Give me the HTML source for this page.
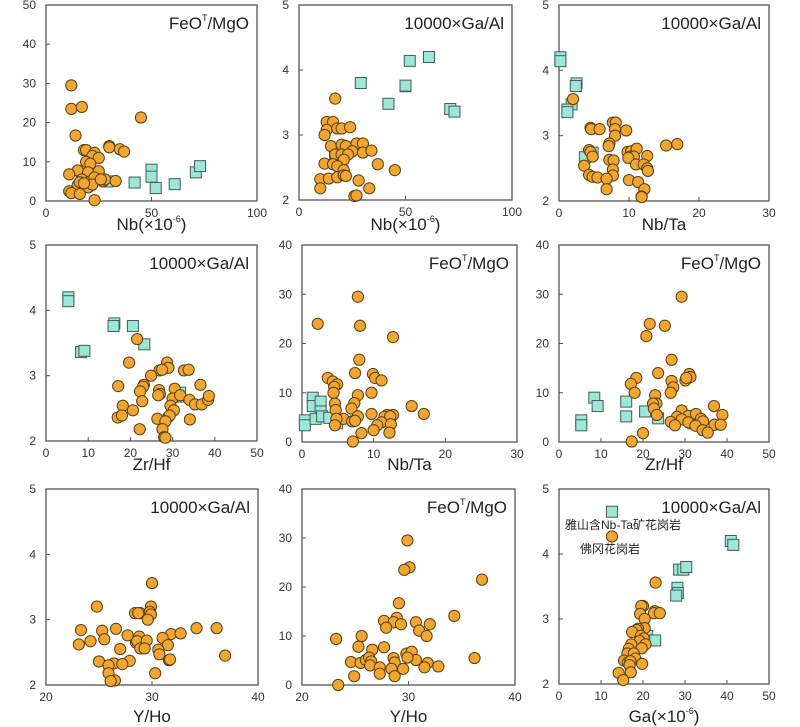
<!DOCTYPE html>
<html><head><meta charset="utf-8">
<style>
body{margin:0;background:#fff;}
svg{display:block;font-family:"Liberation Sans","Noto Sans CJK SC",sans-serif;}
</style></head>
<body>
<svg id="chart" width="800" height="727" viewBox="0 0 800 727"></svg>
<script>
// ---- data ----
const p1Circles=[[12,29.5],[12,23.5],[17,24],[14,16.7],[45,21.3],[30,14],[30,13.7],[35,13.2],[37,12.6],[18,13],[19,13],[23,12.3],[22,11.5],[25,11],[19,10],[21,9.5],[15,7.8],[20,7.3],[25,7.6],[11,6.8],[17,5.5],[21,5],[23,6],[27,5],[28,5.5],[33,5.1],[15,4],[16,4.8],[20,3.5],[22,4.2],[11,2.5],[12,2],[16,1.8],[23,0.2],[26,5.5],[18,4.5]];
const p1Squares=[[17,5],[17,3.8],[29,5],[42,4.7],[50,8],[50,6.2],[52,3.3],[61,4.3],[71,7.3],[73,8.9]];
const p2Circles=[[17,3.56],[13,3.2],[16,3.2],[13,3.08],[18,3.1],[20,3.1],[24,3.12],[12,3.0],[15,2.83],[20,2.85],[22,2.83],[27,2.87],[30,2.87],[25,2.75],[30,2.73],[34,2.76],[17,2.7],[20,2.7],[23,2.7],[21,2.62],[12,2.56],[16,2.55],[18,2.52],[37,2.55],[45,2.46],[21,2.46],[10,2.32],[14,2.33],[18,2.35],[21,2.38],[22,2.37],[28,2.3],[10,2.18],[33,2.18],[26,2.06],[27,2.07]];
const p2Squares=[[17,2.74],[17,2.66],[29,3.8],[42,3.48],[50,3.75],[50,3.76],[52,4.14],[61,4.2],[71,3.4],[73,3.36]];
const p3Circles=[[2.0,3.56],[4.5,3.12],[4.6,3.1],[5.8,3.1],[7.7,3.2],[8.1,3.2],[8.0,3.1],[8.0,3.0],[9.6,3.08],[7.2,2.88],[7.1,2.84],[4.3,2.78],[4.5,2.75],[4.8,2.68],[15.3,2.85],[16.9,2.87],[9.8,2.75],[10.3,2.76],[11.1,2.8],[10.2,2.68],[10.7,2.68],[12.6,2.69],[9.9,2.66],[7.2,2.63],[7.8,2.62],[11.0,2.56],[12.1,2.56],[12.6,2.5],[12.7,2.46],[3.6,2.54],[7.7,2.48],[7.7,2.39],[4.3,2.4],[4.8,2.37],[5.5,2.36],[6.8,2.34],[10.0,2.32],[11.3,2.29],[6.8,2.18],[12.2,2.18],[11.8,2.07],[11.8,2.06]];
const p3Squares=[[0.2,4.2],[0.2,4.14],[2.5,3.8],[2.4,3.76],[1.8,3.48],[1.2,3.4],[1.2,3.36],[3.7,2.67],[4.8,2.74]];
const p4Circles=[[21.6,3.56],[19.7,3.2],[28.7,3.2],[29.0,3.12],[26.9,3.08],[27.5,3.09],[32.7,3.08],[33.8,3.09],[24.9,3.0],[23.2,2.86],[23.0,2.83],[17.1,2.84],[36.6,2.86],[22.3,2.76],[26.8,2.78],[27.0,2.72],[26.6,2.7],[30.5,2.8],[30.0,2.65],[31.8,2.7],[34.0,2.63],[35.3,2.56],[36.9,2.56],[38.4,2.63],[38.6,2.69],[22.8,2.61],[18.2,2.54],[29.5,2.54],[30.3,2.47],[20.6,2.47],[17.0,2.36],[18.0,2.39],[26.4,2.34],[28.9,2.36],[29.3,2.39],[34.1,2.33],[28.3,2.3],[22.2,2.18],[27.6,2.18],[28.0,2.06],[28.3,2.05]];
const p4Squares=[[5.3,4.2],[5.3,4.14],[16.2,3.8],[16,3.76],[20.6,3.76],[23.3,3.48],[8.3,3.36],[9.1,3.38],[31.3,2.68],[31.8,2.74]];
const p5Circles=[[7.8,29.5],[2.2,24],[8.1,23.6],[12.7,21.3],[8.0,16.7],[7.4,14],[9.9,13.8],[10.2,13],[11.1,12.5],[3.6,13],[4.3,12.3],[4.9,11.7],[4.5,11.2],[4.4,10],[9.7,10],[7.8,9.5],[7.3,7.9],[4.6,7.8],[6.9,6.8],[4.7,6.5],[15.3,7.3],[17.0,5.7],[9.7,5.7],[11.9,5.5],[12.7,5.5],[11.5,5.1],[12.3,5.2],[7.8,5.2],[5.8,4.7],[4.8,4.7],[7.0,4.2],[7.4,4.3],[11.1,4],[10.5,3.4],[12.4,3.6],[4.6,3.4],[10.0,2.4],[8.3,1.8],[12.2,1.9],[7.1,0.1]];
const p5Squares=[[0.4,4.4],[0.4,3.4],[1.5,9],[1.5,7.3],[2.6,8.2],[2.6,6.2],[1.9,4.7],[2.8,5.2],[3.8,4.9],[4.9,3.8]];
const p6Circles=[[29.2,29.5],[21.6,24],[25.2,23.6],[20.8,21.5],[26.8,16.7],[23.6,14],[31.0,13.8],[31.3,13.2],[30.1,12.5],[30.3,13],[26.8,12.4],[27.2,11.1],[18.4,13],[17.1,11.8],[18.0,10],[26.6,10],[22.9,9.5],[23.2,7.8],[22.4,7.8],[22.6,6.8],[29.2,6.4],[36.9,7.3],[23.3,5.5],[28.1,5.1],[30.8,5.3],[32.6,5.7],[33.8,4.7],[34.3,4.2],[38.9,5.5],[29.2,4.6],[26.6,4.1],[27.6,3.4],[30.8,4.0],[32.5,3.3],[37.0,3.5],[38.5,3.5],[34.2,2.4],[35.4,1.9],[20.0,1.8],[17.3,0.1]];
const p6Squares=[[5.3,4.4],[5.3,3.4],[8.4,9],[9.2,7.3],[16.0,8.2],[16.0,5.2],[20.5,6.2],[23.6,4.8],[31.2,4.9],[32.0,3.8]];
const p7Circles=[[30.0,3.56],[24.8,3.2],[29.9,3.2],[28.4,3.1],[28.9,3.1],[28.7,3.1],[29.8,3.12],[29.9,3.08],[29.6,3.0],[23.3,2.84],[25.3,2.83],[26.6,2.86],[34.2,2.87],[36.1,2.87],[31.8,2.78],[32.7,2.79],[27.7,2.76],[28.8,2.74],[31.0,2.72],[24.2,2.67],[25.5,2.7],[28.5,2.65],[28.6,2.67],[29.5,2.68],[23.1,2.62],[31.5,2.61],[27.0,2.55],[28.9,2.56],[29.3,2.56],[30.6,2.54],[30.7,2.47],[36.9,2.45],[25.0,2.36],[27.9,2.37],[31.6,2.38],[31.7,2.39],[26.4,2.33],[27.2,2.32],[25.9,2.3],[25.9,2.18],[30.3,2.18],[26.5,2.07],[26.1,2.06]];
const p7Squares=[];
const p8Circles=[[29.9,29.5],[30.1,24],[29.6,23.5],[36.9,21.5],[29.1,16.7],[34.3,14.1],[28.9,13.7],[27.7,13.1],[28.6,12.8],[29.3,12.4],[30.7,12.8],[32.0,12.4],[27.9,11.7],[31.0,11.1],[31.7,10],[23.2,9.4],[25.6,10],[25.3,7.8],[26.6,7.2],[27.7,7.7],[29.8,6.4],[30.3,6.8],[24.6,4.7],[25.5,4.5],[26.0,5.1],[26.3,5.6],[26.5,4.8],[26.4,4.0],[28.6,5.5],[28.7,4.6],[30.7,5.1],[29.9,5.6],[31.8,4.5],[36.2,5.5],[27.3,3.6],[28.4,3.3],[29.5,3.3],[31.5,3.6],[32.8,3.8],[24.9,1.8],[27.3,2.3],[28.7,1.8],[23.4,0.0]];
const p8Squares=[];
const p9Circles=[[23.0,3.56],[20.0,3.2],[19.6,3.2],[22.8,3.12],[22.6,3.09],[24.0,3.09],[19.3,3.08],[20.4,3.0],[20.4,2.86],[18.8,2.85],[18.5,2.83],[17.4,2.8],[19.5,2.74],[20.2,2.7],[19.2,2.66],[20.6,2.61],[17.2,2.61],[19.7,2.55],[16.6,2.54],[16.3,2.47],[17.8,2.47],[18.2,2.39],[15.5,2.36],[16.4,2.33],[17.0,2.35],[19.8,2.31],[16.8,2.29],[14.2,2.17],[17.1,2.18],[15.3,2.06]];
const p9Squares=[[40.9,4.2],[41.5,4.14],[28.6,3.76],[29.6,3.76],[30.3,3.8],[28.2,3.48],[28.3,3.4],[27.9,3.36],[21.0,2.74],[22.9,2.67]];
const ticksNb=[0,50,100], ticksNbTa=[0,10,20,30], ticksZrHf=[0,10,20,30,40,50], ticksYHo=[20,30,40], ticksGa=[0,10,20,30,40,50];
const ticksGaAl=[2,3,4,5], ticksFeO50=[0,10,20,30,40,50], ticksFeO40=[0,10,20,30,40];

const NS="http://www.w3.org/2000/svg";
const svg=document.getElementById('chart');
function mk(tag,attrs,parent){const e=document.createElementNS(NS,tag);for(const k in attrs)e.setAttribute(k,attrs[k]);(parent||svg).appendChild(e);return e;}

const panels=[
 {id:'nb-feo',box:[46,5,257,201],xr:[0,100],yr:[0,50],xt:ticksNb,yt:ticksFeO50,c:p1Circles,s:p1Squares,title:'feo',xl:'Nb(×10',xsup:'-6',ty:230},
 {id:'nb-gaal',box:[299,5,512,200],xr:[0,100],yr:[2,5],xt:ticksNb,yt:ticksGaAl,c:p2Circles,s:p2Squares,title:'ga',xl:'Nb(×10',xsup:'-6',ty:230},
 {id:'nbta-gaal',box:[559,5,769,201],xr:[0,30],yr:[2,5],xt:ticksNbTa,yt:ticksGaAl,c:p3Circles,s:p3Squares,title:'ga',xl:'Nb/Ta',ty:230},
 {id:'zrhf-gaal',box:[46,245,257,441],xr:[0,50],yr:[2,5],xt:ticksZrHf,yt:ticksGaAl,c:p4Circles,s:p4Squares,title:'ga',xl:'Zr/Hf',ty:470},
 {id:'nbta-feo',box:[302,245,517,442],xr:[0,30],yr:[0,40],xt:ticksNbTa,yt:ticksFeO40,c:p5Circles,s:p5Squares,title:'feo',xl:'Nb/Ta',ty:470},
 {id:'zrhf-feo',box:[559,245,769,442],xr:[0,50],yr:[0,40],xt:ticksZrHf,yt:ticksFeO40,c:p6Circles,s:p6Squares,title:'feo',xl:'Zr/Hf',ty:470},
 {id:'yho-gaal',box:[46,489,258,685],xr:[20,40],yr:[2,5],xt:ticksYHo,yt:ticksGaAl,c:p7Circles,s:p7Squares,title:'ga',xl:'Y/Ho',ty:722},
 {id:'yho-feo',box:[302,489,515,685],xr:[20,40],yr:[0,40],xt:ticksYHo,yt:ticksFeO40,c:p8Circles,s:p8Squares,title:'feo',xl:'Y/Ho',ty:722},
 {id:'ga-gaal',box:[559,489,769,684],xr:[0,50],yr:[2,5],xt:ticksGa,yt:ticksGaAl,c:p9Circles,s:p9Squares,title:'ga',xl:'Ga(×10',xsup:'-6',ty:722}
];

panels.forEach(p=>{
 const [x0,y0,x1,y1]=p.box;
 const g=mk('g',{});
 
 
 const sx=v=>x0+(v-p.xr[0])/(p.xr[1]-p.xr[0])*(x1-x0);
 const sy=v=>y1-(v-p.yr[0])/(p.yr[1]-p.yr[0])*(y1-y0);
 const fr=mk('rect',{x:x0,y:y0,width:x1-x0,height:y1-y0,fill:'none',stroke:'#555','stroke-width':1.3},g);
 
 
 p.xt.forEach(t=>{
  mk('line',{x1:sx(t),x2:sx(t),y1:y1,y2:y1-4,stroke:'#555'},g);
  const tx=mk('text',{x:sx(t),y:y1+16,'text-anchor':'middle','font-size':12,fill:'#333'},g);
  tx.textContent=t;
  
  
 });
 p.yt.forEach(t=>{
  mk('line',{x1:x0,x2:x0+4,y1:sy(t),y2:sy(t),stroke:'#555'},g);
  const tx=mk('text',{x:x0-10,y:sy(t)+4,'text-anchor':'end','font-size':12,fill:'#333'},g);
  tx.textContent=t;
  
  
 });
 p.s.forEach(d=>{
  const r=mk('rect',{x:sx(d[0])-5.5,y:sy(d[1])-5.5,width:11,height:11,fill:'#9ee6d6',stroke:'#3d5f5a','stroke-width':1},g);
  
  
 });
 p.c.forEach(d=>{
  const c=mk('circle',{cx:sx(d[0]),cy:sy(d[1]),r:5.6,fill:'#f0a631',stroke:'#5a3e12','stroke-width':1},g);
  
  
 });
 const tt=mk('text',{x:x1-8,y:y0+24,'text-anchor':'end','font-size':17,fill:'#222'},g);
 
 
 if(p.title==='feo'){
  tt.innerHTML='FeO<tspan font-size="9" dy="-8">T</tspan><tspan dy="8">/MgO</tspan>';
 } else tt.textContent='10000×Ga/Al';
 const xl=mk('text',{x:(x0+x1)/2,y:p.ty,'text-anchor':'middle','font-size':17,fill:'#222'},g);
 
 
 if(p.xsup) xl.innerHTML=p.xl+'<tspan font-size="9" dy="-8">'+p.xsup+'</tspan><tspan dy="8">)</tspan>';
 else xl.textContent=p.xl;
 if(p.id==='ga-gaal'){
  const ls=mk('rect',{x:sx(12.6)-5.5,y:sy(4.65)-5.5,width:11,height:11,fill:'#9ee6d6',stroke:'#3d5f5a'},g);
  
  
  const l1=mk('text',{x:565,y:529,'font-size':12,fill:'#222'},g);
  l1.textContent='雅山含Nb-Ta矿花岗岩';
  
  
  const lc=mk('circle',{cx:sx(12.6),cy:sy(4.27),r:5.6,fill:'#f0a631',stroke:'#5a3e12'},g);
  
  
  const l2=mk('text',{x:580,y:553,'font-size':12,fill:'#222'},g);
  l2.textContent='佛冈花岗岩';
  
  
 }
});
</script>
</body></html>
